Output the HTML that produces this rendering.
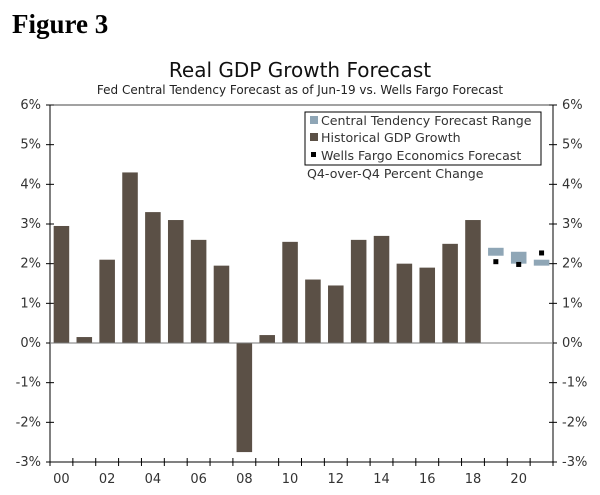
<!DOCTYPE html>
<html><head><meta charset="utf-8"><style>
body{margin:0;background:#fff;width:600px;height:490px;overflow:hidden}
svg text{font-family:"DejaVu Sans","Liberation Sans",sans-serif}
</style></head><body>
<svg width="600" height="490">
<text x="12" y="33" font-family="Liberation Serif" font-weight="bold" font-size="27" style="font-family:'Liberation Serif',serif">Figure 3</text>
<text x="300" y="77" text-anchor="middle" font-size="20" fill="#111">Real GDP Growth Forecast</text>
<text x="300" y="94" text-anchor="middle" font-size="12" fill="#222">Fed Central Tendency Forecast as of Jun-19 vs. Wells Fargo Forecast</text>
<g id="plot"></g>
<g>
<rect x="305" y="112" width="236" height="53" fill="#fff" stroke="#000" stroke-width="1"/>
<rect x="310" y="116" width="8" height="8" fill="#8fa6b6"/>
<text x="321" y="125" font-size="12.6" fill="#333">Central Tendency Forecast Range</text>
<rect x="310" y="133" width="8" height="8" fill="#5b5046"/>
<text x="321" y="142" font-size="12.6" fill="#333">Historical GDP Growth</text>
<rect x="311" y="152" width="5" height="5" fill="#000"/>
<text x="321" y="160" font-size="12.6" fill="#333">Wells Fargo Economics Forecast</text>
</g>
<text x="307" y="178" font-size="12.6" fill="#333">Q4-over-Q4 Percent Change</text>
</svg>
<script>
const years=['00','01','02','03','04','05','06','07','08','09','10','11','12','13','14','15','16','17','18'];
const gdp=[2.95,0.15,2.1,4.3,3.3,3.1,2.6,1.95,-2.75,0.2,2.55,1.6,1.45,2.6,2.7,2.0,1.9,2.5,3.1];
const fcYears=['19','20','21'];
const fcLow=[2.2,2.0,1.95];
const fcHigh=[2.4,2.3,2.1];
const wf=[2.05,1.98,2.27];
const yTicks=[-3,-2,-1,0,1,2,3,4,5,6];
const xLabels=['00','02','04','06','08','10','12','14','16','18','20'];
const NS='http://www.w3.org/2000/svg';
const g=document.getElementById('plot');
const L=50,R=553,T=105,B=462,nSlots=22,slot=(R-L)/nSlots;
const y=v=>T+(6-v)*(B-T)/9;
const xc=i=>L+slot*(i+0.5);
function mk(t,a){const e=document.createElementNS(NS,t);for(const k in a)e.setAttribute(k,a[k]);g.appendChild(e);return e;}
mk('line',{x1:L,y1:T,x2:R,y2:T,stroke:'#444'});
mk('line',{x1:L,y1:T,x2:L,y2:B,stroke:'#000'});
mk('line',{x1:R,y1:T,x2:R,y2:B,stroke:'#000'});
mk('line',{x1:L,y1:B,x2:R,y2:B,stroke:'#000'});
yTicks.forEach(v=>{
 const yy=y(v);
 mk('line',{x1:L-4,y1:yy,x2:L+4,y2:yy,stroke:'#000'});
 mk('line',{x1:R-4,y1:yy,x2:R+4,y2:yy,stroke:'#000'});
 const t1=mk('text',{x:L-9,y:yy+4,'text-anchor':'end','font-size':13,fill:'#333'});t1.textContent=v+'%';
 
 
 const t2=mk('text',{x:R+9,y:yy+4,'font-size':13,fill:'#333'});t2.textContent=v+'%';
 
 
});
for(let i=0;i<=nSlots;i++){const xx=L+slot*i;mk('line',{x1:xx,y1:B-4,x2:xx,y2:B+4,stroke:'#000'});}
xLabels.forEach((s,k)=>{
 const t=mk('text',{x:xc(k*2),y:B+21,'text-anchor':'middle','font-size':13,fill:'#333'});t.textContent=s;
 
 
});
const bw=slot*0.68;
gdp.forEach((v,i)=>{
 const r=mk('rect',{x:xc(i)-bw/2,y:Math.min(y(v),y(0)),width:bw,height:Math.abs(y(v)-y(0)),fill:'#5b5046'});
 
 
});
mk('line',{x1:L,y1:y(0),x2:R,y2:y(0),stroke:'#777'});
fcYears.forEach((s,k)=>{
 const i=gdp.length+k;
 const r=mk('rect',{x:xc(i)-bw/2,y:y(fcHigh[k]),width:bw,height:y(fcLow[k])-y(fcHigh[k]),fill:'#8fa6b6'});
 
 
 const p=mk('rect',{x:xc(i)-2.5,y:y(wf[k])-2.5,width:5,height:5,fill:'#000'});
 
 
});
</script>
</body></html>
